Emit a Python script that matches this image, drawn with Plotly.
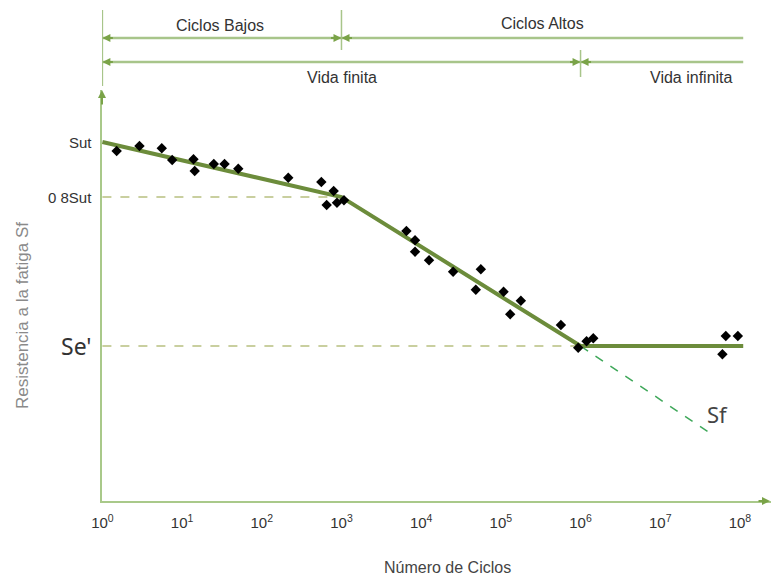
import math
import plotly.graph_objects as go

# ---------------- data ----------------
# fatigue test points (cycles, strength in arbitrary units)
test_cycles = [1.51, 2.92, 5.56, 7.51, 13.9, 14.4, 25.0, 34.1, 50.7, 215, 559, 798, 652, 878, 1075,
               6530, 8380, 8380, 12560, 25170, 56100, 48500, 108200, 178300, 130900, 567000,
               935000, 1.19e6, 1.445e6, 6.65e7, 9.42e7, 6.03e7]
test_strength = [350, 355, 352.7, 341, 341.7, 330, 337, 337, 332.3, 323.3, 319, 310, 296, 298.3, 300.7,
                 270, 260.7, 249.3, 240.7, 229.3, 231.7, 211.3, 209.3, 200.3, 186.7, 176,
                 153.3, 159.8, 162.8, 165, 165, 146.7]

# S-N curve (Sut -> 0.8Sut at 1e3 -> Se' at 1e6 -> flat)
sn_cycles = [1, 1e3, 1e6, 1.1e8]
sn_strength = [359, 304, 155, 155]

# reference levels
sut_level = 359
s08_level = 304
se_level = 155
s08_dash_cycles = [1, 710]
se_dash_cycles = [1, 1e6]

# Sf extension
sf_cycles = [1e6, 4.57e7]
sf_strength = [155, 66]

tick_vals = [1, 10, 100, 1e3, 1e4, 1e5, 1e6, 1e7, 1e8]
tick_text = ["10<sup>%d</sup>" % k for k in range(9)]

y_labels = ["Sut", "0 8Sut", "Se'"]
y_label_vals = [sut_level, s08_level, se_level]
y_label_sizes = [15, 15, 23]

# ---------------- styling ----------------
AX = "#a9c98a"
HEAD = "#7aa348"
HDR = "#a8c58a"
FONT = "Liberation Sans, Arial"

fig = go.Figure()

fig.add_trace(go.Scatter(x=s08_dash_cycles, y=[s08_level, s08_level], mode="lines",
                         line=dict(color="#c9cf9f", width=2, dash="dash"), hoverinfo="skip"))
fig.add_trace(go.Scatter(x=se_dash_cycles, y=[se_level, se_level], mode="lines",
                         line=dict(color="#c9cf9f", width=2, dash="dash"), hoverinfo="skip"))
fig.add_trace(go.Scatter(x=sf_cycles, y=sf_strength, mode="lines",
                         line=dict(color="#3fa85a", width=1.5, dash="dash"), hoverinfo="skip"))
fig.add_trace(go.Scatter(x=sn_cycles, y=sn_strength, mode="lines",
                         line=dict(color="#6c8c3b", width=4), hoverinfo="skip"))
fig.add_trace(go.Scatter(x=test_cycles, y=test_strength, mode="markers",
                         marker=dict(symbol="diamond", size=8, color="black"), hoverinfo="skip"))

shapes = []
annotations = []

# header lines (y in paper units above the plot)
def hline(x0, x1, y):
    shapes.append(dict(type="line", xref="x", yref="paper", x0=x0, x1=x1, y0=y, y1=y,
                       line=dict(color=HDR, width=2.5)))

def vline(x, y0, y1):
    shapes.append(dict(type="line", xref="x", yref="paper", x0=x, x1=x, y0=y0, y1=y1,
                       line=dict(color=HDR, width=1.5)))

def head(xlog, y, ax, yref="paper", xref="x", ay=0):
    annotations.append(dict(x=xlog, y=y, xref=xref, yref=yref, ax=ax, ay=ay, text="",
                            showarrow=True, arrowhead=2, arrowsize=0.8, arrowwidth=2,
                            arrowcolor=HEAD))

R1, R2 = 1.1265, 1.0681
vline(1, 1.0097, 1.1946)
vline(1e3, 1.0973, 1.1946)
vline(1e6, 1.0316, 1.0973)
hline(1, 1e3, R1)
hline(1e3, 1.1e8, R1)
hline(1, 1e6, R2)
hline(1e6, 1.1e8, R2)
head(0, R1, 12)
head(3, R1, -12)
head(3, R1, 12)
head(0, R2, 12)
head(6, R2, -12)
head(6, R2, 12)

# axis arrows
head(0, 1.0, 0, yref="paper", xref="paper", ay=16)
head(1, 0, -14, yref="paper", xref="paper", ay=0)

def txt(x, y, s, size=16, color="#333333", xref="paper", yref="paper", **kw):
    d = dict(x=x, y=y, xref=xref, yref=yref, text=s, showarrow=False,
             xanchor="center", yanchor="middle",
             font=dict(family=FONT, size=size, color=color))
    d.update(kw)
    annotations.append(d)

txt(0.1764, 1.158, "Ciclos Bajos")
txt(0.6577, 1.163, "Ciclos Altos")
txt(0.3587, 1.0316, "Vida finita")
txt(0.8819, 1.0316, "Vida infinita")

for lab, val, sz in zip(y_labels, y_label_vals, y_label_sizes):
    fam = FONT if sz < 20 else "Noto Sans, Liberation Sans"
    annotations.append(dict(x=0, y=val, xref="paper", yref="y", text=lab, showarrow=False,
                            xanchor="right", yanchor="middle", xshift=-8,
                            font=dict(family=fam, size=sz, color="#333333")))

annotations.append(dict(x=math.log10(5.3e7), y=87, xref="x", yref="y", text="Sf", showarrow=False,
                        xanchor="center", yanchor="middle",
                        font=dict(family="Noto Sans, Liberation Sans", size=22, color="#444444")))

txt(0, 0.45, "Resistencia a la fatiga Sf", size=17, color="#8a8a8a",
    textangle=-90, xshift=-80)
txt(0.517, 0, "Número de Ciclos", size=16, color="#444444", yshift=-66)

fig.update_layout(
    width=771, height=584,
    margin=dict(l=102, r=0, t=90, b=83),
    paper_bgcolor="white", plot_bgcolor="white",
    showlegend=False,
    shapes=shapes, annotations=annotations,
    xaxis=dict(type="log", range=[-0.005, 8.39], showgrid=False, zeroline=False,
               showline=True, linecolor=AX, linewidth=2,
               tickvals=tick_vals, ticktext=tick_text,
               ticks="outside", ticklen=7, tickcolor="rgba(0,0,0,0)",
               tickfont=dict(family=FONT, size=15, color="#333333")),
    yaxis=dict(range=[0, 411], showgrid=False, zeroline=False, showticklabels=False,
               showline=True, linecolor=AX, linewidth=2, ticks=""),
)

fig.write_html("out.html")
